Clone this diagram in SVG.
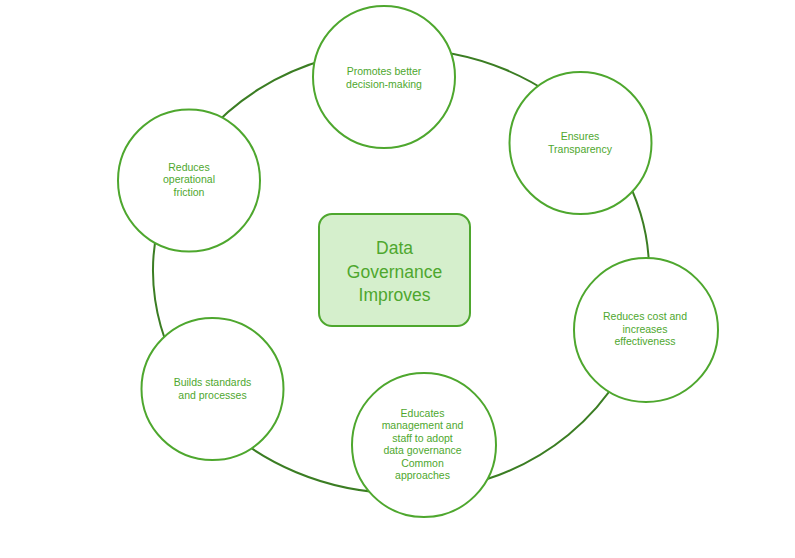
<svg xmlns="http://www.w3.org/2000/svg" width="795" height="558" viewBox="0 0 795 558">
  <style>
    .conn { fill: none; stroke: #3b7d23; stroke-width: 2; }
    .node { fill: #ffffff; stroke: #4ea72e; stroke-width: 2; }
    .lbl { font-family: "Liberation Sans", Arial, sans-serif; font-size: 10.5px; fill: #4ea72e; text-anchor: middle; }
    .center-box { fill: #d5efcc; stroke: #4ea72e; stroke-width: 2; }
    .center-lbl { font-family: "Liberation Sans", Arial, sans-serif; font-size: 17.5px; fill: #4ea72e; text-anchor: middle; }
  </style>
  <rect width="795" height="558" fill="#ffffff"/>
  <g id="connectors">
    <path class="conn" d="M401,49 A248,222 0 0 1 591,128.3"/>
    <path class="conn" d="M591,128.3 A248,222 0 0 1 645.2,309.6"/>
    <path class="conn" d="M645.2,309.6 A248,222 0 0 1 422.6,492.2"/>
    <path class="conn" d="M422.6,492.2 A248,222 0 0 1 197.8,398.3"/>
    <path class="conn" d="M197.8,398.3 A248,222 0 0 1 168,195.1"/>
    <path class="conn" d="M168,195.1 A248,222 0 0 1 401,49"/>
  </g>
  <g id="center">
    <rect class="center-box" x="319" y="214" width="151" height="112" rx="13"/>
    <text class="center-lbl" x="394.5" y="254">Data</text>
    <text class="center-lbl" x="394.5" y="277.5">Governance</text>
    <text class="center-lbl" x="394.5" y="300.5">Improves</text>
  </g>
  <g id="node-decision">
    <circle class="node" cx="384" cy="77" r="71"/>
    <text class="lbl" x="384" y="75">Promotes better</text>
    <text class="lbl" x="384" y="87.7">decision-making</text>
  </g>
  <g id="node-transparency">
    <circle class="node" cx="580.5" cy="143" r="71"/>
    <text class="lbl" x="580" y="140">Ensures</text>
    <text class="lbl" x="580" y="152.7">Transparency</text>
  </g>
  <g id="node-cost">
    <circle class="node" cx="646" cy="330" r="72"/>
    <text class="lbl" x="645" y="320">Reduces cost and</text>
    <text class="lbl" x="645" y="332.7">increases</text>
    <text class="lbl" x="645" y="345">effectiveness</text>
  </g>
  <g id="node-educates">
    <circle class="node" cx="424" cy="445" r="72"/>
    <text class="lbl" x="422.5" y="416.7">Educates</text>
    <text class="lbl" x="422.5" y="429.3">management and</text>
    <text class="lbl" x="422.5" y="442">staff to adopt</text>
    <text class="lbl" x="422.5" y="454.3">data governance</text>
    <text class="lbl" x="422.5" y="467">Common</text>
    <text class="lbl" x="422.5" y="479.3">approaches</text>
  </g>
  <g id="node-standards">
    <circle class="node" cx="212.5" cy="389" r="71"/>
    <text class="lbl" x="212.5" y="386">Builds standards</text>
    <text class="lbl" x="212.5" y="399.3">and processes</text>
  </g>
  <g id="node-friction">
    <circle class="node" cx="189" cy="180.5" r="71"/>
    <text class="lbl" x="189" y="170.7">Reduces</text>
    <text class="lbl" x="189" y="183.3">operational</text>
    <text class="lbl" x="189" y="196">friction</text>
  </g>
</svg>
